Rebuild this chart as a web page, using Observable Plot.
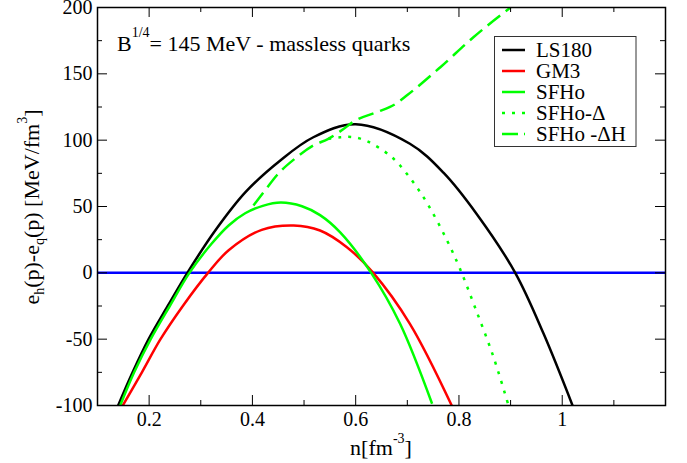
<!DOCTYPE html>
<html><head><meta charset="utf-8">
<script src="https://cdn.jsdelivr.net/npm/d3@7"></script>
<script src="https://cdn.jsdelivr.net/npm/@observablehq/plot@0.6"></script>
<style>body{margin:0;background:#fff;} svg{display:block}</style>
</head><body><div id="chart"></div>
<script>
// ---- data ----
const xMajor = [0.2, 0.4, 0.6, 0.8, 1];
const xMinor = [0.3, 0.5, 0.7, 0.9, 1.1];
const yMajor = [-100, -50, 0, 50, 100, 150, 200];
const yMinor = [-75, -25, 25, 75, 125, 175];

const ls180N = [0.140,0.168,0.199,0.236,0.274,0.328,0.387,0.454,0.518,0.600,0.705,0.770,0.835,0.909,0.964,1.020];
const ls180E = [-100,-75,-50,-25,0,31.9,61,84.7,102.2,112,97.3,75.5,44,0,-46,-100];

const gm3N = [0.149,0.186,0.222,0.267,0.314,0.354,0.418,0.480,0.531,0.583,0.634,0.705,0.786];
const gm3E = [-100,-75,-50,-24,0,17,32.4,35.7,31.9,19.3,0,-38.4,-100];

const sfhoN = [0.144,0.171,0.203,0.240,0.278,0.320,0.354,0.386,0.420,0.455,0.496,0.531,0.570,0.630,0.686,0.748];
const sfhoE = [-100,-75,-50,-25,0,21.5,35.7,44.9,50.5,53,50.2,43.5,30.5,0,-38.4,-98.7];

const sfhoDN = [0.547,0.570,0.595,0.622,0.670,0.709,0.741,0.777,0.802,0.831,0.867,0.896];
const sfhoDE = [101,102.2,102.3,99.2,87.2,69.6,50.8,24.4,3,-25.9,-63.6,-100];

const sfhoDHN = [0.402,0.428,0.447,0.486,0.518,0.547,0.575,0.596,0.640,0.676,0.700,0.764,0.828,0.900];
const sfhoDHE = [50.8,64,73.4,87.2,96,101,108,114,121,127,134,155,177.6,200];

const seriesNames = ["LS180", "GM3", "SFHo", "SFHo-\u0394", "SFHo -\u0394H"];
const seriesN = [ls180N, gm3N, sfhoN, sfhoDN, sfhoDHN];
const seriesE = [ls180E, gm3E, sfhoE, sfhoDE, sfhoDHE];
const seriesColor = ["#000000", "#ff0000", "#00ff00", "#00ff00", "#00ff00"];
const seriesDash = [null, null, null, "3,7", "16,7"];
const seriesCurve = ["catmull-rom", "catmull-rom", "catmull-rom", "catmull-rom", "monotone-x"];

// ---- layout ----
const W = 687, H = 463;
const mL = 97, mR = 22, mT = 7, mB = 58;
const pw = W - mL - mR, ph = H - mT - mB;
const serif = "Liberation Serif, serif";
const majorLen = 10, minorLen = 5;

const lines = seriesN.map((n, i) =>
  Plot.line(d3.zip(n, seriesE[i]), {
    stroke: seriesColor[i], strokeWidth: 2.5, curve: seriesCurve[i],
    strokeDasharray: seriesDash[i] || undefined, strokeLinecap: "butt", clip: true
  })
);

const chart = Plot.plot({
  width: W, height: H,
  marginLeft: mL, marginRight: mR, marginTop: mT, marginBottom: mB,
  style: {fontFamily: serif, fontSize: "20px", background: "white", color: "black"},
  x: {domain: [0.1, 1.2]},
  y: {domain: [-100, 200]},
  marks: [
    Plot.ruleY([0], {stroke: "#0000ff", strokeWidth: 2.5}),
    ...lines,
    Plot.tickX(xMajor, {insetTop: ph - majorLen, stroke: "black", strokeWidth: 1}),
    Plot.tickX(xMinor, {insetTop: ph - minorLen, stroke: "black", strokeWidth: 1}),
    Plot.tickX(xMajor, {insetBottom: ph - majorLen, stroke: "black", strokeWidth: 1}),
    Plot.tickX(xMinor, {insetBottom: ph - minorLen, stroke: "black", strokeWidth: 1}),
    Plot.tickY(yMajor, {insetRight: pw - majorLen, stroke: "black", strokeWidth: 1}),
    Plot.tickY(yMinor, {insetRight: pw - minorLen, stroke: "black", strokeWidth: 1}),
    Plot.tickY(yMajor, {insetLeft: pw - majorLen, stroke: "black", strokeWidth: 1}),
    Plot.tickY(yMinor, {insetLeft: pw - minorLen, stroke: "black", strokeWidth: 1}),
    Plot.frame({stroke: "black", strokeWidth: 1.5}),
    Plot.axisX(xMajor, {tickSize: 0, tickPadding: 6, tickFormat: d => String(d), label: null, fontSize: 20, fontFamily: serif}),
    Plot.axisY(yMajor, {tickSize: 0, tickPadding: 5, tickFormat: d => String(d), label: null, fontSize: 20, fontFamily: serif})
  ]
});
document.getElementById("chart").appendChild(chart);

const svg = d3.select(chart);
const txt = (x, y, size, anchor = "start") => svg.append("text").attr("x", x).attr("y", y)
  .attr("font-family", serif).attr("font-size", size).attr("fill", "black")
  .attr("text-anchor", anchor);

// annotation
const ann = txt(117, 51, 22);
ann.append("tspan").text("B");
ann.append("tspan").attr("font-size", 14).attr("dy", -14).text("1/4");
ann.append("tspan").attr("dy", 14).text("= 145 MeV - massless quarks");

// x label
const xl = txt(381, 455, 22, "middle");
xl.append("tspan").text("n[fm");
xl.append("tspan").attr("font-size", 14).attr("dy", -12).text("-3");
xl.append("tspan").attr("dy", 12).text("]");

// y label
const yl = svg.append("text").attr("transform", "translate(39,207) rotate(-90)")
  .attr("text-anchor", "middle").attr("font-family", serif).attr("font-size", 22).attr("fill", "black");
yl.append("tspan").text("e");
yl.append("tspan").attr("font-size", 14).attr("dy", 5).text("h");
yl.append("tspan").attr("dy", -5).text("(p)-e");
yl.append("tspan").attr("font-size", 14).attr("dy", 5).text("q");
yl.append("tspan").attr("dy", -5).text("(p) [MeV/fm");
yl.append("tspan").attr("font-size", 14).attr("dy", -12).text("3");
yl.append("tspan").attr("dy", 12).text("]");

// legend
const lg = svg.append("g");
lg.append("rect").attr("x", 494.5).attr("y", 36.5).attr("width", 141.5).attr("height", 110)
  .attr("fill", "white").attr("stroke", "#333").attr("stroke-width", 1);
const rowY = [50, 71, 92, 113, 134];
seriesNames.forEach((name, i) => {
  lg.append("line").attr("x1", 502).attr("x2", 525).attr("y1", rowY[i]).attr("y2", rowY[i])
    .attr("stroke", seriesColor[i]).attr("stroke-width", 2.5)
    .attr("stroke-dasharray", seriesDash[i] === "16,7" ? "16,6" : seriesDash[i]);
  lg.append("text").attr("x", 536).attr("y", rowY[i] + 7).attr("font-family", serif)
    .attr("font-size", 21).attr("fill", "black").attr("text-anchor", "start").text(name);
});
</script>
</body></html>
